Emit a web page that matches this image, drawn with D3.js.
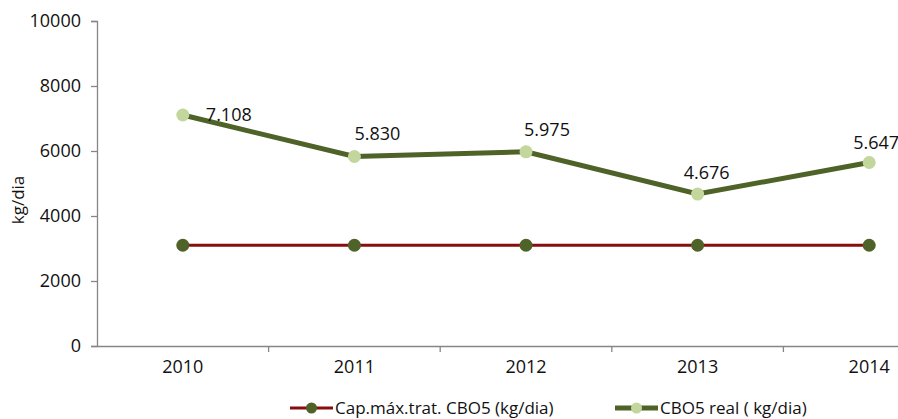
<!DOCTYPE html>
<html>
<head>
<meta charset="utf-8">
<script src="https://cdn.jsdelivr.net/npm/d3@7"></script>
<style>
  body { margin: 0; background: #fff; }
  svg { display: block; font-family: "Open Sans", Lato, sans-serif; }
</style>
</head>
<body>
<div id="chart"></div>
<script>
// data
const years = ["2010", "2011", "2012", "2013", "2014"];
const capMax = [3100, 3100, 3100, 3100, 3100];
const cboReal = [7108, 5830, 5975, 4676, 5647];
const cboLabels = ["7.108", "5.830", "5.975", "4.676", "5.647"];
const yTicks = [0, 2000, 4000, 6000, 8000, 10000];

// label nudges (pixels), like the hand-moved labels in the original
const labelDx = [46, 23, 21, 9, 7];
const labelDy = [6, -17, -16, -15, -13];

const width = 898;
const height = 419;
const font = "'Open Sans', Lato, sans-serif";

const svg = d3.select("#chart")
  .append("svg")
  .attr("width", width)
  .attr("height", height);

// the original chart is cut off on the right, so the band range runs past the edge
const x = d3.scaleBand().domain(years).range([97, 955]);
const y = d3.scaleLinear().domain([0, 10000]).range([346, 21]);
const cx = (d, i) => x(years[i]) + x.bandwidth() / 2;

const axisColor = "#868686";

// y axis
const yAxis = svg.append("g")
  .attr("transform", "translate(97,0)")
  .call(d3.axisLeft(y).tickValues(yTicks).tickSize(6).tickPadding(10).tickFormat(d3.format("d")));
yAxis.select(".domain").attr("stroke", axisColor).attr("stroke-width", 1.3);
yAxis.selectAll(".tick line").attr("stroke", axisColor).attr("stroke-width", 1.3);
yAxis.selectAll("text").attr("font-size", 18).attr("fill", "#111").attr("font-family", font);

// x axis
const xAxis = svg.append("g")
  .attr("transform", "translate(0,346)")
  .call(d3.axisBottom(x).tickSize(0).tickPadding(14));
xAxis.select(".domain").attr("stroke", axisColor).attr("stroke-width", 1.3);
xAxis.selectAll("text").attr("font-size", 18).attr("fill", "#111").attr("font-family", font);
// category boundary ticks
svg.append("g")
  .selectAll("line")
  .data(years.slice(1))
  .join("line")
  .attr("x1", d => x(d)).attr("x2", d => x(d))
  .attr("y1", 346).attr("y2", 352)
  .attr("stroke", axisColor).attr("stroke-width", 1.3);

// y title
svg.append("text")
  .attr("transform", "translate(24,200) rotate(-90)")
  .attr("text-anchor", "middle")
  .attr("font-size", 17)
  .attr("fill", "#111")
  .text("kg/dia");

const line = d3.line().x(cx).y(d => y(d));

// capacity line
svg.append("path")
  .datum(capMax)
  .attr("d", line)
  .attr("fill", "none")
  .attr("stroke", "#880E0E")
  .attr("stroke-width", 3);
svg.append("g")
  .selectAll("circle")
  .data(capMax)
  .join("circle")
  .attr("cx", cx)
  .attr("cy", d => y(d))
  .attr("r", 6.5)
  .attr("fill", "#4F6228");

// real line
svg.append("path")
  .datum(cboReal)
  .attr("d", line)
  .attr("fill", "none")
  .attr("stroke", "#4F6228")
  .attr("stroke-width", 5);
svg.append("g")
  .selectAll("circle")
  .data(cboReal)
  .join("circle")
  .attr("cx", cx)
  .attr("cy", d => y(d))
  .attr("r", 6.5)
  .attr("fill", "#C3D69B");

svg.append("g")
  .selectAll("text")
  .data(cboReal)
  .join("text")
  .attr("x", (d, i) => cx(d, i) + labelDx[i])
  .attr("y", (d, i) => y(d) + labelDy[i])
  .attr("text-anchor", "middle")
  .attr("font-size", 18)
  .attr("fill", "#111")
  .text((d, i) => cboLabels[i]);

// legend
const legend = [
  { name: "Cap.máx.trat. CBO5 (kg/dia)", line: "#880E0E", lw: 3, dot: "#4F6228", x: 290 },
  { name: "CBO5 real ( kg/dia)", line: "#4F6228", lw: 5, dot: "#C3D69B", x: 615 }
];
const lg = svg.append("g")
  .selectAll("g")
  .data(legend)
  .join("g")
  .attr("transform", d => `translate(${d.x},408)`);
lg.append("line")
  .attr("x1", 0).attr("x2", 43)
  .attr("stroke", d => d.line)
  .attr("stroke-width", d => d.lw);
lg.append("circle")
  .attr("cx", 21.5).attr("r", 5.5)
  .attr("fill", d => d.dot);
lg.append("text")
  .attr("x", 45)
  .attr("y", 6)
  .attr("font-size", 17)
  .attr("fill", "#111")
  .text(d => d.name);
</script>
</body>
</html>
